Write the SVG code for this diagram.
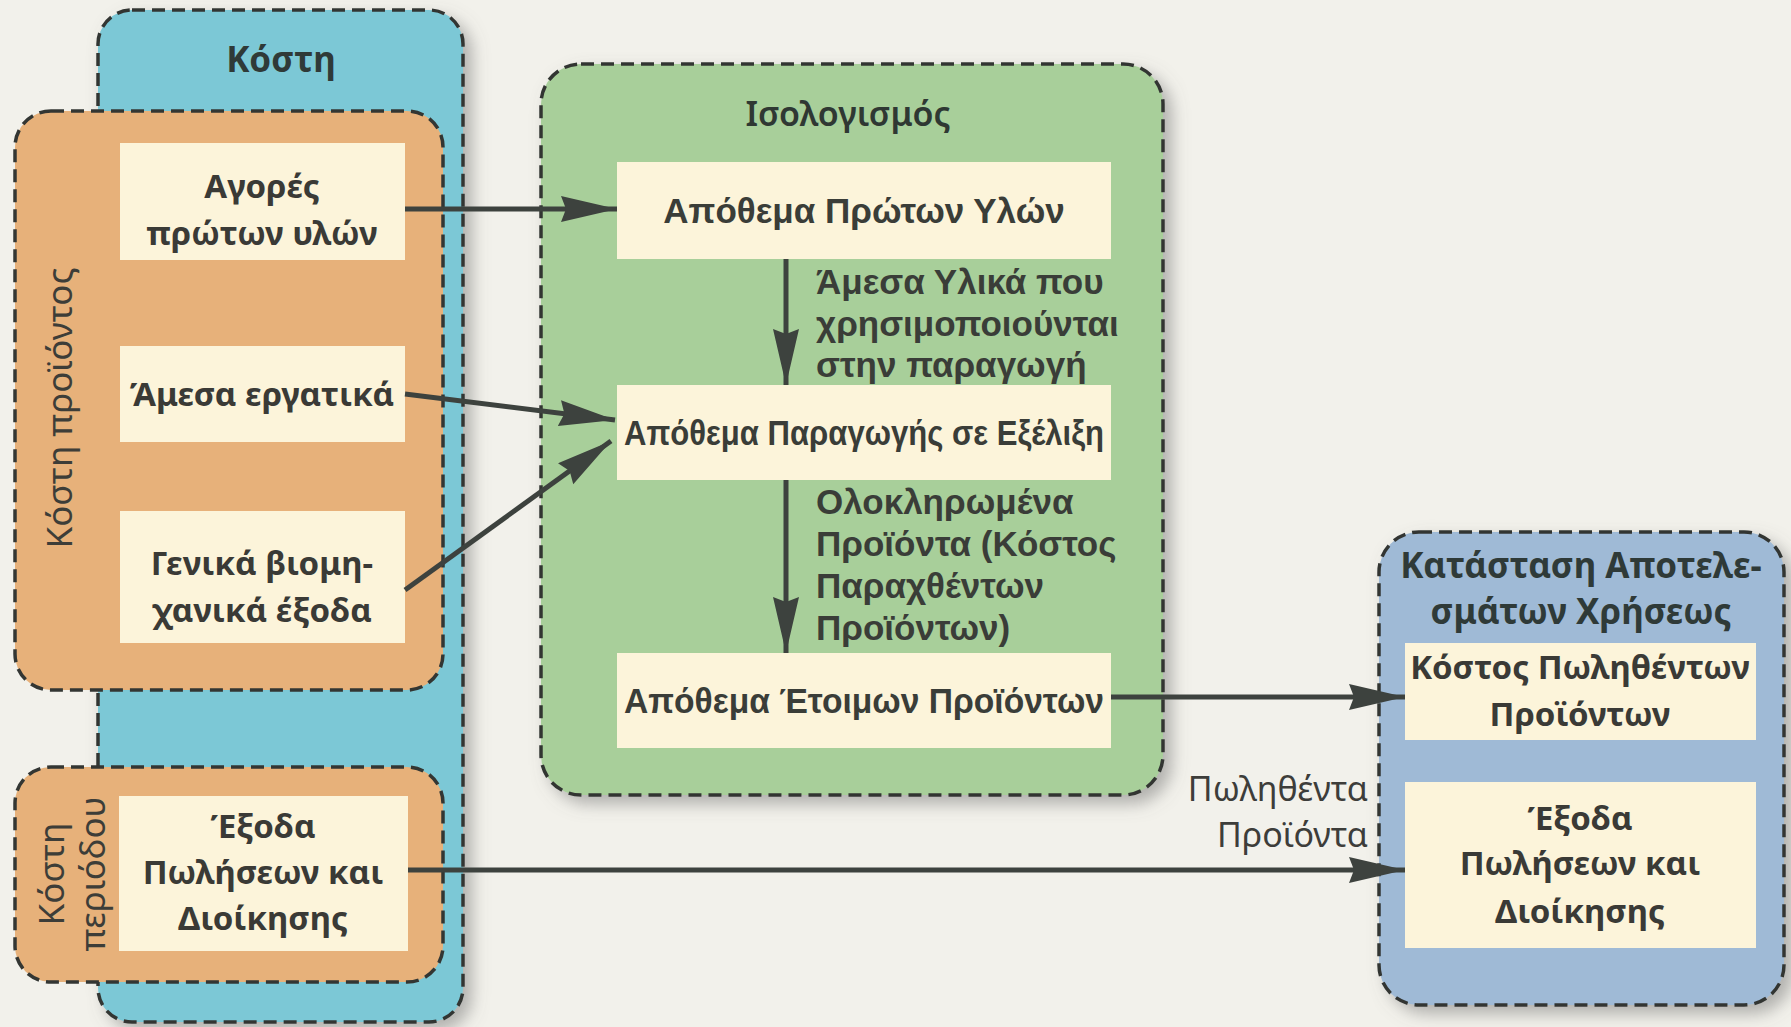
<svg xmlns="http://www.w3.org/2000/svg" width="1791" height="1027" viewBox="0 0 1791 1027">
<defs>
<filter id="sh" x="-10%" y="-10%" width="125%" height="125%">
<feDropShadow dx="8" dy="8" stdDeviation="8" flood-color="#6f6f6f" flood-opacity="0.5"/>
</filter>
<marker id="ah" markerUnits="userSpaceOnUse" markerWidth="60" markerHeight="30" refX="56" refY="13" orient="auto">
<path d="M0,0 L56,13 L0,26 L5,13 Z" fill="#3d423e"/>
</marker>
</defs>
<style>
.bg{fill:#f2f1eb}
.grp{stroke:#333633;stroke-width:3.5;stroke-dasharray:13 7}
.blue{fill:#7cc8d6}
.orange{fill:#e7b17a}
.green{fill:#a8cf9a}
.rblue{fill:#9fbad6}
.wb{fill:#fcf4da}
.t{font-family:"Noto Sans","Open Sans",sans-serif;font-weight:bold;font-size:33px;fill:#3a3a36;text-anchor:middle}
.r{font-family:"Noto Sans","Open Sans",sans-serif;font-size:35px;fill:#3d3d38;text-anchor:middle}
.a{font-family:"Liberation Sans",Arial,sans-serif;font-weight:bold;font-size:35px;fill:#3a3d38;text-anchor:middle}
.al{font-family:"Liberation Sans",Arial,sans-serif;font-weight:bold;font-size:35px;fill:#3a3d38}
.lab{font-family:"Noto Sans","Open Sans",sans-serif;font-size:34px;fill:#3d3d3a;text-anchor:end}
.ttl{font-family:"Noto Sans","Open Sans",sans-serif;font-weight:bold;font-size:35px;fill:#2f3a38;text-anchor:middle}
.ln{stroke:#3d423e;stroke-width:5;fill:none}
</style>
<rect class="bg" x="0" y="0" width="1791" height="1027"/>

<g id="kosti">
<rect class="blue grp" x="98" y="10" width="365" height="1012" rx="34" filter="url(#sh)"/>
<text class="ttl" x="281" y="72">Κόστη</text>
</g>

<g id="kosti-proiontos">
<rect class="orange grp" x="15" y="111" width="428" height="579" rx="36"/>
<text class="r" transform="translate(58,408) rotate(-90)" dominant-baseline="central">Κόστη προϊόντος</text>
</g>
<g id="agores">
<rect class="wb" x="120" y="143" width="285" height="117"/>
<text class="t" x="262" y="198">Αγορές</text>
<text class="t" x="262" y="245">πρώτων υλών</text>
</g>
<g id="amesa-ergatika">
<rect class="wb" x="120" y="346" width="285" height="96"/>
<text class="t" x="262" y="406">Άμεσα εργατικά</text>
</g>
<g id="genika">
<rect class="wb" x="120" y="511" width="285" height="132"/>
<text class="t" x="262" y="575">Γενικά βιομη-</text>
<text class="t" x="262" y="622">χανικά έξοδα</text>
</g>

<g id="kosti-periodou">
<rect class="orange grp" x="15" y="767" width="428" height="215" rx="36"/>
<text class="r" transform="translate(70,874) rotate(-90)" dominant-baseline="central"><tspan x="0" y="-20">Κόστη</tspan><tspan x="0" y="21">περιόδου</tspan></text>
</g>
<g id="exoda-left">
<rect class="wb" x="119" y="796" width="289" height="155"/>
<text class="t" x="263" y="838">Έξοδα</text>
<text class="t" x="263" y="884">Πωλήσεων και</text>
<text class="t" x="263" y="930">Διοίκησης</text>
</g>

<g id="isologismos">
<rect class="green grp" x="541" y="64" width="622" height="731" rx="40" filter="url(#sh)"/>
<text x="848" y="126" text-anchor="middle" style="font-family:'Noto Sans','Open Sans',sans-serif;font-weight:600;font-size:34px;fill:#2f3833">Ισολογισμός</text>
</g>
<g id="apothema-proton">
<rect class="wb" x="617" y="162" width="494" height="97"/>
<text class="a" x="864" y="223">Απόθεμα Πρώτων Υλών</text>
</g>
<g id="apothema-paragogis">
<rect class="wb" x="617" y="385" width="494" height="95"/>
<text class="a" x="864" y="445" textLength="480" lengthAdjust="spacingAndGlyphs">Απόθεμα Παραγωγής σε Εξέλιξη</text>
</g>
<g id="apothema-etoimon">
<rect class="wb" x="617" y="653" width="494" height="95"/>
<text class="a" x="864" y="713" textLength="480" lengthAdjust="spacingAndGlyphs">Απόθεμα Έτοιμων Προϊόντων</text>
</g>

<g id="katastasi">
<rect class="rblue grp" x="1379" y="532" width="405" height="473" rx="40" filter="url(#sh)"/>
<text class="ttl" x="1581" y="578">Κατάσταση Αποτελε-</text>
<text class="ttl" x="1581" y="624">σμάτων Χρήσεως</text>
</g>
<g id="kostos-polithenton">
<rect class="wb" x="1405" y="643" width="351" height="97"/>
<text class="t" x="1580" y="679">Κόστος Πωληθέντων</text>
<text class="t" x="1580" y="726">Προϊόντων</text>
</g>
<g id="exoda-right">
<rect class="wb" x="1405" y="782" width="351" height="166"/>
<text class="t" x="1580" y="830">Έξοδα</text>
<text class="t" x="1580" y="875">Πωλήσεων και</text>
<text class="t" x="1580" y="923">Διοίκησης</text>
</g>

<g id="connectors">
<line class="ln" x1="405" y1="209" x2="617" y2="209" marker-end="url(#ah)"/>
<line class="ln" x1="405" y1="394" x2="615" y2="420" marker-end="url(#ah)"/>
<line class="ln" x1="405" y1="590" x2="611" y2="441" marker-end="url(#ah)"/>
<line class="ln" x1="786" y1="259" x2="786" y2="385" marker-end="url(#ah)"/>
<line class="ln" x1="786" y1="480" x2="786" y2="653" marker-end="url(#ah)"/>
<line class="ln" x1="1111" y1="697" x2="1405" y2="697" marker-end="url(#ah)"/>
<line class="ln" x1="408" y1="870" x2="1405" y2="870" marker-end="url(#ah)"/>
<text class="al" x="816" y="294">Άμεσα Υλικά που</text>
<text class="al" x="816" y="336">χρησιμοποιούνται</text>
<text class="al" x="816" y="377">στην παραγωγή</text>
<text class="al" x="816" y="514">Ολοκληρωμένα</text>
<text class="al" x="816" y="556">Προϊόντα (Κόστος</text>
<text class="al" x="816" y="598">Παραχθέντων</text>
<text class="al" x="816" y="640">Προϊόντων)</text>
<text class="lab" x="1368" y="801">Πωληθέντα</text>
<text class="lab" x="1368" y="847">Προϊόντα</text>
</g>
</svg>
